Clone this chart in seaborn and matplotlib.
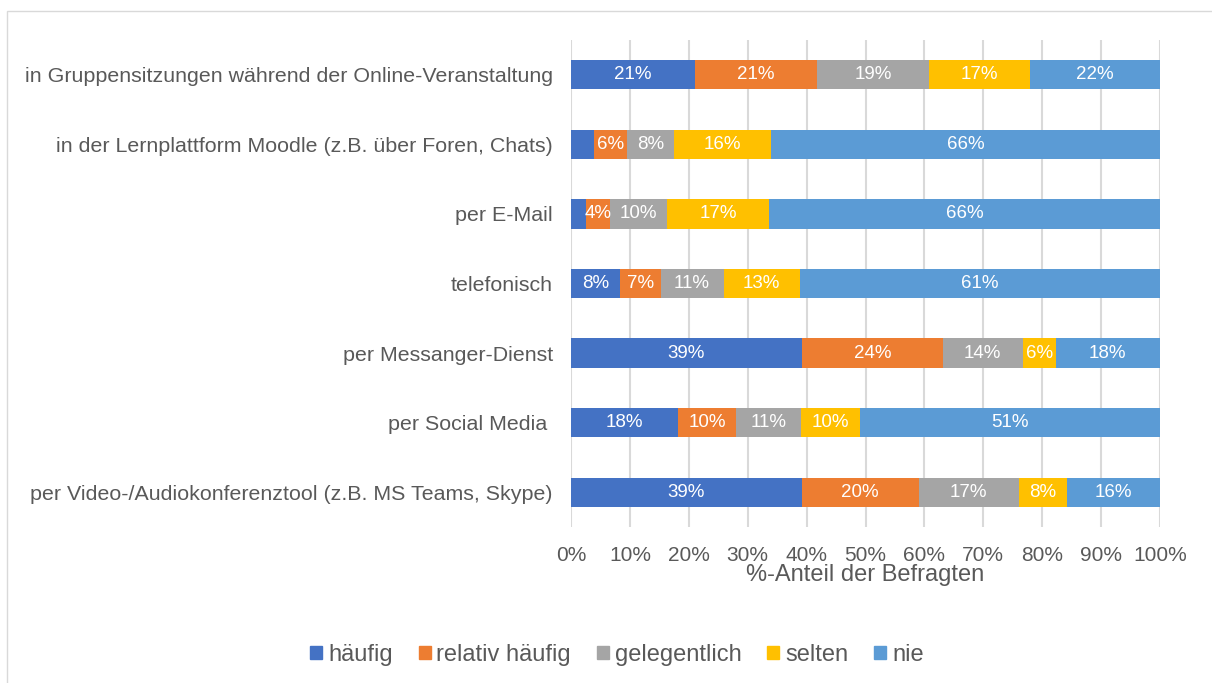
import numpy as np
import pandas as pd
import matplotlib.pyplot as plt
import matplotlib.patches as mpatches
import seaborn as sns

categories = [
    'in Gruppensitzungen während der Online-Veranstaltung',
    'in der Lernplattform Moodle (z.B. über Foren, Chats)',
    'per E-Mail',
    'telefonisch',
    'per Messanger-Dienst',
    'per Social Media ',
    'per Video-/Audiokonferenztool (z.B. MS Teams, Skype)',
]
series_names = ['häufig', 'relativ häufig', 'gelegentlich', 'selten', 'nie']
haeufig = [21.1, 3.9, 2.6, 8.3, 39.2, 18.2, 39.2]
relativ_haeufig = [20.7, 5.6, 4.1, 6.9, 23.9, 9.8, 19.8]
gelegentlich = [19.0, 8.0, 9.6, 10.7, 13.6, 11.0, 17.1]
selten = [17.1, 16.5, 17.3, 12.9, 5.6, 10.1, 8.1]
nie = [22.1, 66.0, 66.4, 61.2, 17.7, 50.9, 15.8]
colors = ['#4472C4', '#ED7D31', '#A5A5A5', '#FFC000', '#5B9BD5']
x_ticks = [0, 10, 20, 30, 40, 50, 60, 70, 80, 90, 100]

sns.set_theme(style='white')
plt.rcParams['font.family'] = ['Liberation Sans', 'DejaVu Sans']
text_color = '#595959'

df = pd.DataFrame({'Kategorie': categories, 'häufig': haeufig,
                   'relativ häufig': relativ_haeufig, 'gelegentlich': gelegentlich,
                   'selten': selten, 'nie': nie})
cum = df[series_names].cumsum(axis=1)

fig = plt.figure(figsize=(12.12, 6.83), dpi=100)
ax = fig.add_axes([571 / 1212, 1 - 527 / 683, 589 / 1212, 487 / 683])

# stacked bars: draw cumulative totals from the largest down
for name, col in reversed(list(zip(series_names, colors))):
    sns.barplot(x=cum[name], y=df['Kategorie'], orient='h', color=col,
                width=0.42, linewidth=0, saturation=1, ax=ax, zorder=3)

# segment labels
for i, name in enumerate(series_names):
    starts = cum[name] - df[name]
    for j, v in enumerate(df[name]):
        if v >= 4:
            ax.text(starts[j] + v / 2, j, f'{round(v)}%', ha='center', va='center',
                    color='white', fontsize=13.5, zorder=4)

ax.set_xlim(0, 100)
ax.set_ylim(6.5, -0.5)
ax.set_xticks(x_ticks)
ax.set_xticklabels([f'{t}%' for t in x_ticks])
ax.grid(axis='x', color='#D9D9D9', linewidth=1.5, zorder=0)
for s in ax.spines.values():
    s.set_visible(False)
ax.tick_params(axis='x', length=0, pad=14, labelsize=15, labelcolor=text_color)
ax.tick_params(axis='y', length=0, pad=13, labelsize=15.4, labelcolor=text_color)
ax.set_ylabel('')
ax.set_xlabel('%-Anteil der Befragten', fontsize=17, color=text_color, labelpad=-1)

handles = [mpatches.Patch(color=c, label=n) for n, c in zip(series_names, colors)]
fig.legend(handles=handles, loc='center', bbox_to_anchor=(617 / 1212, 1 - 655 / 683),
           ncol=5, frameon=False, fontsize=17, handlelength=0.5, handleheight=0.5,
           handletextpad=0.25, columnspacing=1.1, labelcolor=text_color)

# chart frame
fig.add_artist(mpatches.Rectangle((7 / 1212, -0.05), 1.1, 1 - 11 / 683 + 0.05,
                                  transform=fig.transFigure, fill=False,
                                  edgecolor='#D9D9D9', linewidth=1))

fig.savefig('out.png', dpi=100)
